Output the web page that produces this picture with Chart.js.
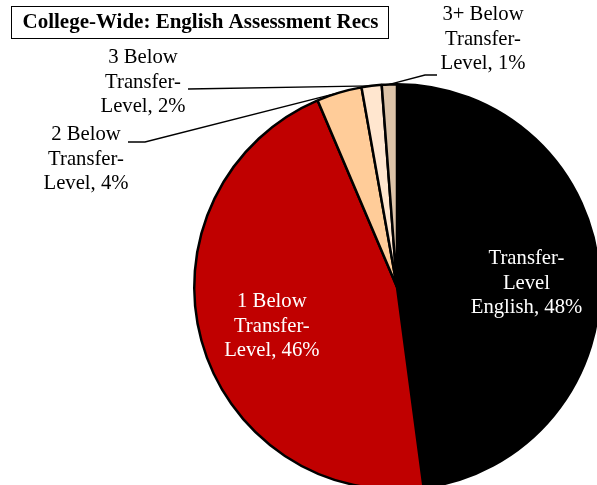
<!DOCTYPE html>
<html>
<head>
<meta charset="utf-8">
<script src="https://cdn.jsdelivr.net/npm/chart.js@4"></script>
<style>
  html, body { margin: 0; padding: 0; overflow: hidden; background: #fff; }
  #wrap { position: relative; width: 603px; height: 495px; }
</style>
</head>
<body>
<div id="wrap"><canvas id="pieChart" width="603" height="495"></canvas></div>
<script>
    // dados do gráfico
    var categories = ['Transfer-Level English', '1 Below Transfer-Level', '2 Below Transfer-Level', '3 Below Transfer-Level', '3+ Below Transfer-Level'];
    var values = [47.9, 45.7, 3.6, 1.6, 1.2];
    var shownPct = ['48%', '46%', '4%', '2%', '1%'];
    var sliceColors = ['#000000', '#C00000', '#FFCC99', '#FFE6CF', '#DCC3A8'];
    var titleText = 'College-Wide: English Assessment Recs';

    var serif = '"Liberation Serif", "Times New Roman", serif';

    // rótulos: linhas de texto, onde ficam e se há linha de chamada
    var labelLines = [
        ['Transfer-', 'Level', 'English, ' + shownPct[0]],
        ['1 Below', 'Transfer-', 'Level, ' + shownPct[1]],
        ['2 Below', 'Transfer-', 'Level, ' + shownPct[2]],
        ['3 Below', 'Transfer-', 'Level, ' + shownPct[3]],
        ['3+ Below', 'Transfer-', 'Level, ' + shownPct[4]]
    ];
    var outside = {
        2: { x: 86, y: 135, lead: [[128, 142], [145, 142]] },
        3: { x: 143, y: 58, lead: [[188, 89]] },
        4: { x: 483, y: 15, lead: [[437, 75], [425, 75]] }
    };

    var labelPlugin = {
        id: 'pieLabels',
        afterDatasetsDraw: function (chart) {
            var ctx = chart.ctx;
            var arcs = chart.getDatasetMeta(0).data;
            ctx.save();
            ctx.font = '20.7px ' + serif;
            ctx.textAlign = 'center';
            ctx.textBaseline = 'middle';
            arcs.forEach(function (arc, i) {
                var p = arc.getProps(['x', 'y', 'startAngle', 'endAngle', 'outerRadius'], true);
                var mid = (p.startAngle + p.endAngle) / 2;
                var lines = labelLines[i];
                if (outside[i]) {
                    var o = outside[i];
                    ctx.fillStyle = '#000';
                    lines.forEach(function (t, k) { ctx.fillText(t, o.x, o.y + k * 24.5); });
                    ctx.strokeStyle = '#000';
                    ctx.lineWidth = 1.3;
                    ctx.beginPath();
                    ctx.moveTo(o.lead[0][0], o.lead[0][1]);
                    for (var k = 1; k < o.lead.length; k++) ctx.lineTo(o.lead[k][0], o.lead[k][1]);
                    ctx.lineTo(p.x + Math.cos(mid) * p.outerRadius, p.y + Math.sin(mid) * p.outerRadius);
                    ctx.stroke();
                } else {
                    var r = p.outerRadius * 0.64;
                    var cx = p.x + Math.cos(mid) * r;
                    var cy = p.y + Math.sin(mid) * r + 5;
                    ctx.fillStyle = '#fff';
                    lines.forEach(function (t, k) { ctx.fillText(t, cx, cy + (k - 1) * 24.5); });
                }
            });
            // título com moldura
            ctx.font = 'bold 21px ' + serif;
            ctx.fillStyle = '#000';
            ctx.textAlign = 'center';
            ctx.fillText(titleText, 200.5, 22.5);
            ctx.strokeStyle = '#000';
            ctx.lineWidth = 1;
            ctx.strokeRect(11.5, 6.5, 377, 32);
            ctx.restore();
        }
    };

    var pieChart = new Chart(document.getElementById('pieChart').getContext('2d'), {
        type: 'pie',
        data: {
            labels: categories,
            datasets: [{
                data: values,
                backgroundColor: sliceColors,
                borderColor: '#000000',
                borderWidth: 2.5
            }]
        },
        options: {
            responsive: false,
            animation: false,
            layout: { padding: { left: 193, top: 83, right: 2, bottom: 4 } },
            plugins: {
                legend: { display: false },
                tooltip: { enabled: false }
            }
        },
        plugins: [labelPlugin]
    });
</script>
</body>
</html>
